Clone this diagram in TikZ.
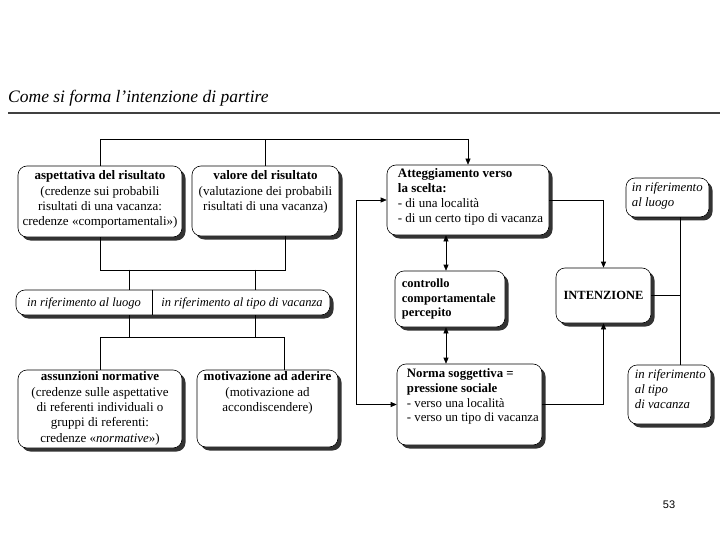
\documentclass[tikz,border=0pt]{standalone}
\usepackage{fontspec}
\setmainfont{Liberation Serif}
\newfontfamily\pgnum{Liberation Sans}
\usetikzlibrary{arrows.meta,calc,shadows}
\begin{document}
\begin{tikzpicture}[x=1pt,y=-1pt,
  box/.style={draw=black, line width=0.6pt, rounded corners=9pt, fill=white,
    drop shadow={shadow xshift=3.5pt, shadow yshift=-3.5pt, fill=black!80, opacity=1}},
  txt/.style={inner sep=0pt, font=\fontsize{13}{15.3}\selectfont},
  itxt/.style={inner sep=0pt, font=\fontsize{12.8}{15}\selectfont\itshape},
  ln/.style={line width=0.6pt},
  arr/.style={ln, -{Triangle[length=6pt,width=5pt]}},
  dbl/.style={ln, {Triangle[length=6pt,width=5pt]}-{Triangle[length=6pt,width=5pt]}},
]
\useasboundingbox (0,0) rectangle (720,540);

% title
\node[anchor=base west, inner sep=0pt, font=\fontsize{17.5}{20}\selectfont\itshape] (title) at (8,103) {Come si forma l'intenzione di partire};
\draw[line width=1.6pt, black!75] (8,113) -- (720,113);

% left boxes
\node[box, minimum width=164, minimum height=71] (b1) at (100,201.5) {};
\node[txt, anchor=north, align=center] at ($(b1.north)+(0,5)$) {\textbf{aspettativa del risultato}\\(credenze sui probabili\\risultati di una vacanza:\\credenze «comportamentali»)};

\node[box, minimum width=147, minimum height=70] (b2) at (265.5,201) {};
\node[txt, anchor=north, align=center] at ($(b2.north)+(0,5)$) {\textbf{valore del risultato}\\(valutazione dei probabili\\risultati di una vacanza)};

\node[box, minimum width=314, minimum height=25] (band) at (173,302.5) {};
\node[txt, font=\fontsize{12.5}{15}\selectfont\itshape] (bl) at (84,303) {in riferimento al luogo};
\node[txt, font=\fontsize{12.5}{15}\selectfont\itshape] (br) at (242,303) {in riferimento al tipo di vacanza};
\draw[ln] ($(band.north)+(-21,0)$) -- ($(band.south)+(-21,0)$);

\node[box, minimum width=164, minimum height=78] (b3) at (100,409) {};
\node[txt, anchor=north, align=center] at ($(b3.north)+(0,2)$) {\textbf{assunzioni normative}\\(credenze sulle aspettative\\di referenti individuali o\\gruppi di referenti:\\credenze «\textit{normative}»)};

\node[box, minimum width=141, minimum height=77] (b4) at (267.5,408.5) {};
\node[txt, anchor=north, align=center] at ($(b4.north)+(0,2)$) {\textbf{motivazione ad aderire}\\(motivazione ad\\accondiscendere)};

% middle boxes
\node[box, minimum width=162, minimum height=70] (att) at (468,200) {};
\node[txt, anchor=north west, align=left, font=\fontsize{13}{14.7}\selectfont] at ($(att.north west)+(11,4)$) {\textbf{Atteggiamento verso}\\\textbf{la scelta:}\\- di una località\\- di un certo tipo di vacanza};

\node[box, minimum width=110, minimum height=56] (ctrl) at (450,299) {};
\node[txt, anchor=west, align=left, font=\fontsize{12.5}{14.7}\selectfont\bfseries] at ($(ctrl.west)+(7,0)$) {controllo\\comportamentale\\percepito};

\node[box, minimum width=145, minimum height=81] (norma) at (469.5,404.5) {};
\node[txt, anchor=north west, align=left, font=\fontsize{12.8}{14.7}\selectfont] at ($(norma.north west)+(10,5)$) {\textbf{Norma soggettiva =}\\\textbf{pressione sociale}\\- verso una località\\- verso un tipo di vacanza};

% right boxes
\node[box, minimum width=95, minimum height=55, font=\fontsize{12.5}{15}\selectfont\bfseries] (int) at (603.5,295.5) {INTENZIONE};

\node[box, minimum width=83, minimum height=39] (luogo) at (667.5,197.5) {};
\node[itxt, anchor=north west, align=left] at ($(luogo.north west)+(6,5)$) {in riferimento\\al luogo};

\node[box, minimum width=83, minimum height=59] (tipo) at (669.5,394.5) {};
\node[itxt, anchor=north west, align=left] at ($(tipo.north west)+(7,5)$) {in riferimento\\al tipo\\di vacanza};

% connectors
\coordinate (tj) at (468,139);
\draw[ln] (b1.north) |- (tj);
\draw[ln] (b2.north) -- (b2.north |- tj);
\draw[arr] (tj) -- (att.north);

\draw[ln] (b1.south) -- ++(0,33) -| ($(b2.south)+(19.5,0)$);
\draw[ln] ($(band.north)+(-44,-20)$) -- ($(band.north)+(-44,0)$);
\draw[ln] ($(band.north)+(82,-20)$) -- ($(band.north)+(82,0)$);

\draw[ln] (b3.north) -- ++(0,-32) -| ($(b4.north)+(16.5,0)$);
\draw[ln] ($(band.south)+(-44,0)$) -- ($(band.south)+(-44,23)$);
\draw[ln] ($(band.south)+(82,0)$) -- ($(band.south)+(82,23)$);

\draw[dbl] (att.west) -- ++(-30,0) |- (norma.west);

\coordinate (ca) at ($(ctrl.north)+(-4,0)$);
\coordinate (cb) at ($(ctrl.south)+(-4,0)$);
\draw[dbl] (ca |- att.south) -- (ca);
\draw[dbl] (cb) -- (cb |- norma.north);

\draw[arr] (att.east) -| (int.north);
\draw[arr] (norma.east) -| (int.south);

\coordinate (rv) at ($(luogo.south)+(12.5,0)$);
\draw[ln] (rv) -- (rv |- tipo.north);
\draw[ln] (int.east) -- (int.east -| rv);

% page number
\node[inner sep=0pt, font=\pgnum\fontsize{11}{13}\selectfont] (pg) at (669,505) {53};
\end{tikzpicture}
\end{document}
